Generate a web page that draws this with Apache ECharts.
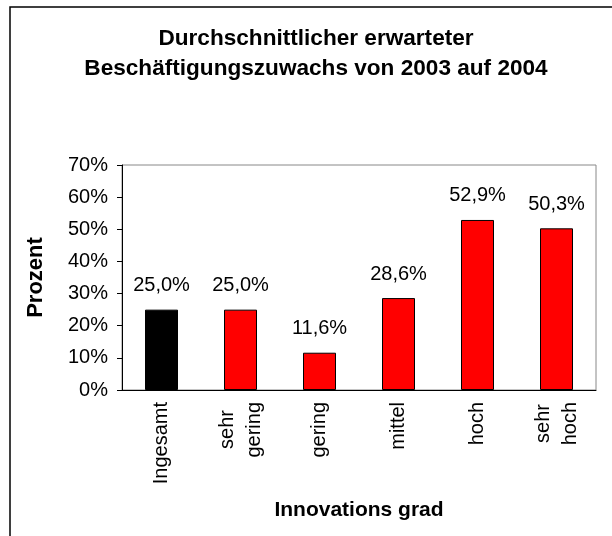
<!DOCTYPE html>
<html>
<head>
<meta charset="utf-8">
<script src="https://cdn.jsdelivr.net/npm/echarts@6/dist/echarts.min.js"></script>
<style>
  html, body { margin: 0; padding: 0; background: #fff; }
  #main { width: 612px; height: 536px; }
</style>
</head>
<body>
<div id="main"></div>
<script>
// Kategorien und Werte (Prozent)
var categories = ['Ingesamt', 'sehr\ngering', 'gering', 'mittel', 'hoch', 'sehr\nhoch'];
var values = [25.0, 25.0, 11.6, 28.6, 52.9, 50.3];
var barColors = ['#000000', '#ff0000', '#ff0000', '#ff0000', '#ff0000', '#ff0000'];
var yTicks = [0, 10, 20, 30, 40, 50, 60, 70];

var font = 'Liberation Sans';
var labelSize = 20;

// zweizeilige Labels: kürzere Zeile mit Abstandhalter zentrieren
var ctx = document.createElement('canvas').getContext('2d');
ctx.font = labelSize + 'px "' + font + '"';
var catRich = {
    t: { fontFamily: font, fontSize: labelSize, lineHeight: 27, color: '#000' }
};
var catText = categories.map(function (c, i) {
    var lines = c.split('\n');
    var widths = lines.map(function (l) { return ctx.measureText(l).width; });
    var maxW = Math.max.apply(null, widths);
    return lines.map(function (l, j) {
        var pad = Math.round((maxW - widths[j]) / 2);
        var s = '{t|' + l + '}';
        if (pad > 0) {
            catRich['p' + i + '_' + j] = { width: pad, lineHeight: 27 };
            s += '{p' + i + '_' + j + '|}';
        }
        return s;
    }).join('\n');
});

var chartDom = document.getElementById('main');
var myChart = echarts.init(chartDom);

var option = {
    backgroundColor: '#fff',
    animation: false,
    title: {
        text: 'Durchschnittlicher erwarteter\nBeschäftigungszuwachs von 2003 auf 2004',
        left: 311,
        top: 19,
        textAlign: 'center',
        textStyle: {
            fontFamily: font,
            fontWeight: 'bold',
            fontSize: 22.6,
            lineHeight: 30,
            color: '#000'
        }
    },
    graphic: [
        {
            type: 'rect',
            shape: { x: 10, y: 7, width: 800, height: 800 },
            style: { fill: 'none', stroke: '#000', lineWidth: 1.5 },
            silent: true
        }
    ],
    grid: {
        left: 122,
        right: 16,
        top: 165,
        bottom: 146,
        show: true,
        borderColor: '#888',
        borderWidth: 1
    },
    xAxis: {
        type: 'category',
        data: categories,
        name: 'Innovations grad',
        nameLocation: 'middle',
        nameGap: 110,
        nameTextStyle: {
            fontFamily: font,
            fontWeight: 'bold',
            fontSize: 21,
            color: '#000'
        },
        axisLine: { lineStyle: { color: '#000', width: 1 } },
        axisTick: { length: 5, lineStyle: { color: '#000' } },
        axisLabel: {
            rotate: 90,
            margin: 12,
            interval: 0,
            color: '#000',
            formatter: function (v, i) {
                return catText[i];
            },
            rich: catRich
        }
    },
    yAxis: {
        type: 'value',
        min: yTicks[0],
        max: yTicks[yTicks.length - 1],
        interval: 10,
        name: 'Prozent',
        nameLocation: 'middle',
        nameGap: 75,
        nameTextStyle: {
            fontFamily: font,
            fontWeight: 'bold',
            fontSize: 22,
            color: '#000'
        },
        axisLine: { show: true, lineStyle: { color: '#000', width: 1 } },
        axisTick: { show: true, length: 5, lineStyle: { color: '#000' } },
        splitLine: { show: false },
        axisLabel: {
            margin: 14,
            formatter: '{value}%',
            fontFamily: font,
            fontSize: labelSize,
            color: '#000'
        }
    },
    series: [
        {
            type: 'bar',
            barWidth: 33,
            data: values.map(function (v, i) {
                return {
                    value: v,
                    itemStyle: { color: barColors[i], borderColor: '#000', borderWidth: 1 }
                };
            }),
            label: {
                show: true,
                position: 'top',
                distance: 14,
                fontFamily: font,
                fontSize: labelSize,
                color: '#000',
                formatter: function (p) {
                    return p.value.toFixed(1).replace('.', ',') + '%';
                }
            }
        }
    ]
};

option && myChart.setOption(option);
</script>
</body>
</html>
